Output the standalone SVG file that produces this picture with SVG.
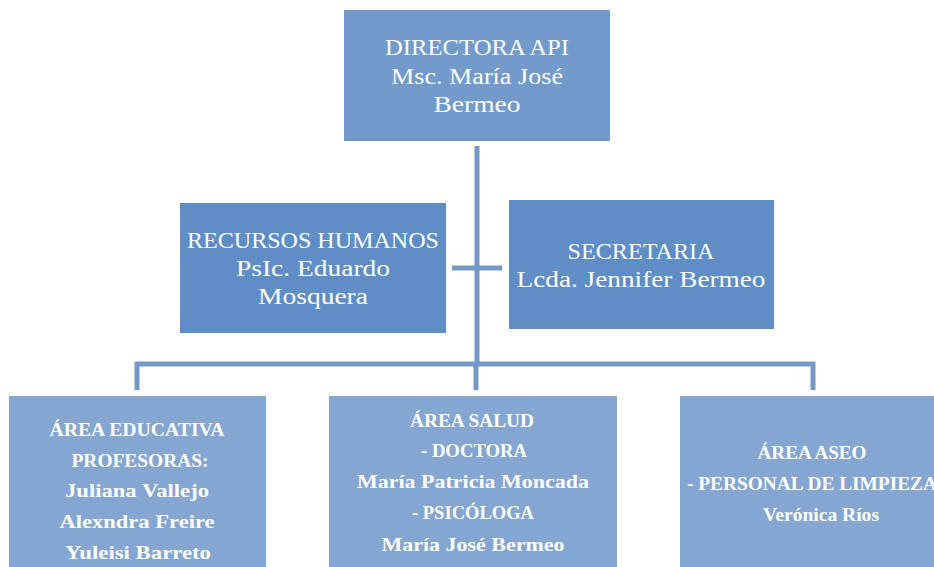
<svg xmlns="http://www.w3.org/2000/svg" width="934" height="567" viewBox="0 0 934 567">
<style>
.t{font-family:"Liberation Serif","DejaVu Serif",serif;fill:#ffffff;text-anchor:middle}
.big{font-size:24px}
.sm{font-size:19px;font-weight:bold}
.ln{stroke:#7399C9;stroke-width:5;fill:none}
</style>
<rect width="934" height="567" fill="#ffffff"/>
<g id="connectors">
<line class="ln" x1="477" y1="146" x2="477" y2="366"/>
<line class="ln" x1="452" y1="268" x2="502" y2="268"/>
<polyline class="ln" points="137,390 137,364 813,364 813,390"/>
<line class="ln" x1="476" y1="364" x2="476" y2="390"/>
</g>
<g id="directora">
<rect x="344" y="10" width="266" height="131" fill="#729ACB"/>
<text class="t big" x="477" y="55" textLength="184" lengthAdjust="spacingAndGlyphs">DIRECTORA API</text>
<text class="t big" x="477" y="84" textLength="172" lengthAdjust="spacingAndGlyphs">Msc. María José</text>
<text class="t big" x="477" y="112" textLength="87" lengthAdjust="spacingAndGlyphs">Bermeo</text>
</g>
<g id="rrhh">
<rect x="180" y="203" width="266" height="130" fill="#5F8DC5"/>
<text class="t big" x="313" y="248" textLength="252" lengthAdjust="spacingAndGlyphs">RECURSOS HUMANOS</text>
<text class="t big" x="313" y="276" textLength="154" lengthAdjust="spacingAndGlyphs">PsIc. Eduardo</text>
<text class="t big" x="313" y="304" textLength="110" lengthAdjust="spacingAndGlyphs">Mosquera</text>
</g>
<g id="secretaria">
<rect x="509" y="200" width="265" height="129" fill="#5F8DC5"/>
<text class="t big" x="641" y="259" textLength="147" lengthAdjust="spacingAndGlyphs">SECRETARIA</text>
<text class="t big" x="641" y="287" textLength="249" lengthAdjust="spacingAndGlyphs">Lcda. Jennifer Bermeo</text>
</g>
<g id="educativa">
<rect x="9" y="396" width="257" height="175" fill="#84A6D0"/>
<text class="t sm" x="137" y="436" textLength="175" lengthAdjust="spacingAndGlyphs">ÁREA EDUCATIVA</text>
<text class="t sm" x="140" y="467" textLength="137" lengthAdjust="spacingAndGlyphs">PROFESORAS:</text>
<text class="t sm" x="137" y="497" textLength="144" lengthAdjust="spacingAndGlyphs">Juliana Vallejo</text>
<text class="t sm" x="137" y="528" textLength="155" lengthAdjust="spacingAndGlyphs">Alexndra Freire</text>
<text class="t sm" x="138" y="559" textLength="146" lengthAdjust="spacingAndGlyphs">Yuleisi Barreto</text>
</g>
<g id="salud">
<rect x="329" y="396" width="288" height="175" fill="#84A6D0"/>
<text class="t sm" x="472" y="427" textLength="124" lengthAdjust="spacingAndGlyphs">ÁREA SALUD</text>
<text class="t sm" x="474" y="457" textLength="106" lengthAdjust="spacingAndGlyphs">- DOCTORA</text>
<text class="t sm" x="473" y="488" textLength="232" lengthAdjust="spacingAndGlyphs">María Patricia Moncada</text>
<text class="t sm" x="473" y="519" textLength="122" lengthAdjust="spacingAndGlyphs">- PSICÓLOGA</text>
<text class="t sm" x="473" y="551" textLength="183" lengthAdjust="spacingAndGlyphs">María José Bermeo</text>
</g>
<g id="aseo">
<rect x="680" y="396" width="264" height="175" fill="#84A6D0"/>
<text class="t sm" x="812" y="459" textLength="109" lengthAdjust="spacingAndGlyphs">ÁREA ASEO</text>
<text class="t sm" x="812" y="490" textLength="250" lengthAdjust="spacingAndGlyphs">- PERSONAL DE LIMPIEZA</text>
<text class="t sm" x="821" y="521" textLength="116" lengthAdjust="spacingAndGlyphs">Verónica Ríos</text>
</g>
</svg>
